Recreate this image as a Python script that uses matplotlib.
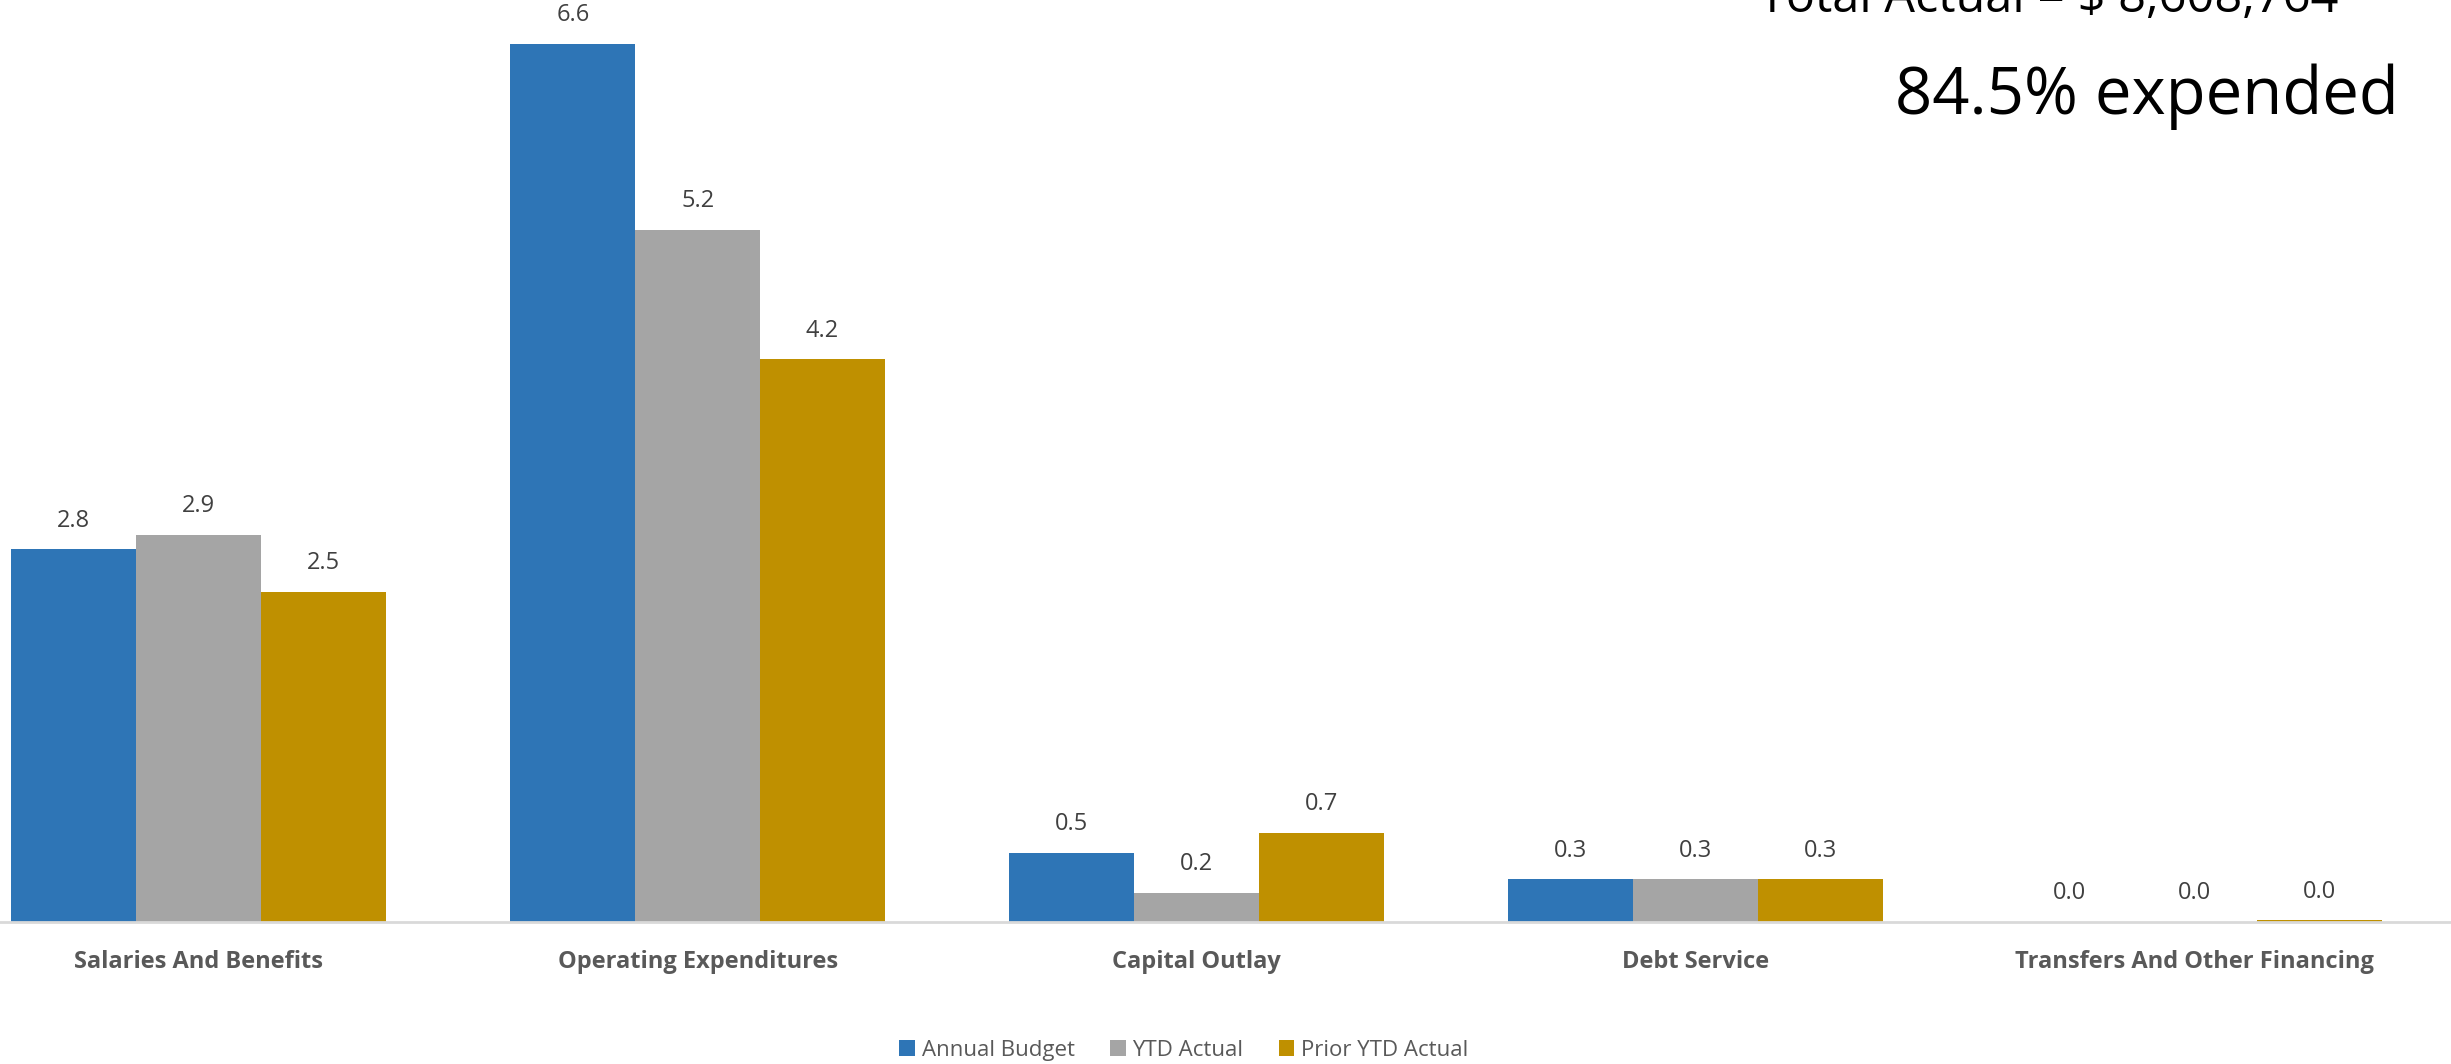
import matplotlib.pyplot as plt
import numpy as np

# Data (millions)
categories = ["Salaries And Benefits", "Operating Expenditures", "Capital Outlay",
              "Debt Service", "Transfers And Other Financing"]
annual_budget = [2.8, 6.6, 0.52, 0.32, 0.0]
ytd_actual = [2.91, 5.2, 0.22, 0.32, 0.0]
prior_ytd = [2.48, 4.23, 0.67, 0.32, 0.012]
series_names = ["Annual Budget", "YTD Actual", "Prior YTD Actual"]
colors = ["#2E75B6", "#A5A5A5", "#BF9000"]

plt.rcParams['font.family'] = ['Open Sans', 'DejaVu Sans']

fig = plt.figure(figsize=(24.51, 10.64), dpi=100)
ax = fig.add_axes([0, 0.1335, 1, 0.8665])

x = np.arange(len(categories))
w = 0.25
for i, (vals, name, c) in enumerate(zip([annual_budget, ytd_actual, prior_ytd], series_names, colors)):
    pos = x + (i - 1) * w
    ax.bar(pos, vals, width=w, color=c, label=name, edgecolor="none")
    for p, v in zip(pos, vals):
        ax.annotate(f"{v:.1f}", (p, v), xytext=(0, 12), textcoords="offset points",
                    ha="center", va="bottom", fontsize=17, color="#404040")

ax.set_xlim(-0.398, 4.514)
ax.set_ylim(0, 6.93)
for s in ["top", "right", "left"]:
    ax.spines[s].set_visible(False)
ax.spines["bottom"].set_color("#D9D9D9")
ax.spines["bottom"].set_linewidth(2)
ax.set_yticks([])
ax.set_xticks(x)
ax.set_xticklabels(categories, fontsize=17, fontweight="bold", color="#595959")
ax.tick_params(axis="x", length=0, pad=20)

leg = fig.legend(loc="center", bbox_to_anchor=(0.483, 0.013), ncol=3, frameon=False,
                 fontsize=16, handlelength=0.7, handleheight=0.7, columnspacing=1.6,
                 handletextpad=0.3)
for t in leg.get_texts():
    t.set_color("#595959")

fig.text(2338 / 2451, 1 - 12 / 1064, "Total Actual = $ 8,608,764", ha="right", va="baseline",
         fontsize=35, color="black")
fig.text(2399 / 2451, 1 - 114 / 1064, "84.5% expended", ha="right", va="baseline",
         fontsize=47, color="black")

fig.savefig("out.png", dpi=100)
